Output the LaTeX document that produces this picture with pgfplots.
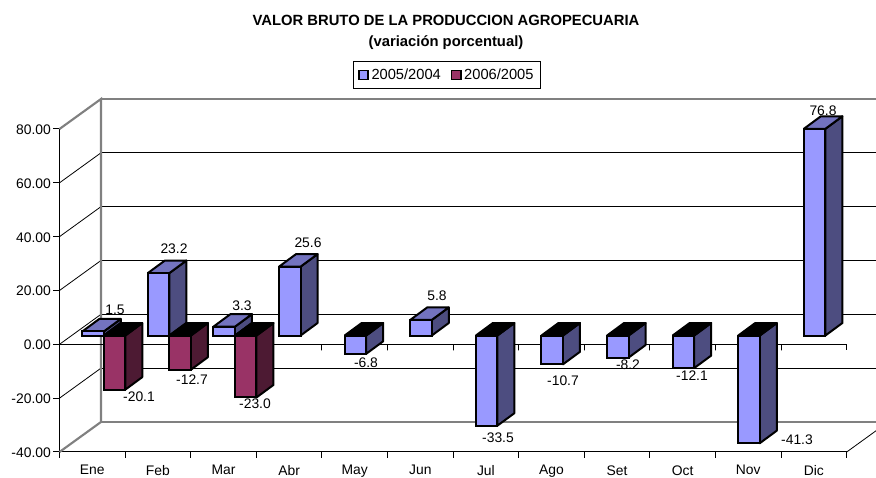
\documentclass[border=0pt]{standalone}
\usepackage{pgfplots}
\usepackage{pgfplotstable}
\pgfplotsset{compat=1.18}
\usepackage{fontspec}
\setmainfont{Liberation Sans}
\definecolor{aF}{HTML}{9999FF}\definecolor{aS}{HTML}{4D4D80}\definecolor{aT}{HTML}{7373BF}
\definecolor{bF}{HTML}{993366}\definecolor{bS}{HTML}{4D1A33}
\definecolor{wall}{HTML}{808080}
\pgfplotstableread{
x v
0.511 1.5
1.511 23.2
2.511 3.3
3.511 25.6
4.511 -6.8
5.511 5.8
6.511 -33.5
7.511 -10.7
8.511 -8.2
9.511 -12.1
10.511 -41.3
11.511 76.8
}\tabA
\pgfplotstableread{
x v
0.839 -20.1
1.839 -12.7
2.839 -23.0
}\tabB
\pgfplotstableread{
px py lbl
115 310 1.5
174 249 23.2
242 306 3.3
308 243 25.6
366 363 -6.8
437 296 5.8
498 438 -33.5
563 381 -10.7
628 365 -8.2
692 376 -12.1
797 440 -41.3
823 111 76.8
139 397 -20.1
192 380 -12.7
255 404 -23.0
}\tabL
\newcommand\faces[3]{%
  \pgfplotstablegetrowsof{#1}\pgfmathtruncatemacro\lastrow{\pgfplotsretval-1}%
  \pgfplotsforeachungrouped \i in {0,...,\lastrow}{%
    \pgfplotstablegetelem{\i}{x}\of{#1}\let\xc\pgfplotsretval
    \pgfplotstablegetelem{\i}{v}\of{#1}\let\vv\pgfplotsretval
    \pgfmathsetmacro\vc{max(\vv,-40)}%
    \pgfmathsetmacro\xl{\xc-0.164}\pgfmathsetmacro\xr{\xc+0.164}%
    \pgfmathsetmacro\xbl{\xl+0.259}\pgfmathsetmacro\xbr{\xr+0.259}%
    \pgfmathsetmacro\tp{max(\vc,0)}\pgfmathsetmacro\tb{\tp+4.65}%
    \pgfmathsetmacro\vb{\vc+4.65}%
    \edef\tmp{\noexpand\addplot[forget plot,draw=black,line width=1.5pt,line join=round,fill=#2] coordinates {(\xr,0)(\xr,\vc)(\xbr,\vb)(\xbr,4.65)(\xr,0)};
    \noexpand\addplot[forget plot,draw=black,line width=1.5pt,line join=round,fill=\ifdim\vv pt<0pt black\else #3\fi] coordinates {(\xl,\tp)(\xr,\tp)(\xbr,\tb)(\xbl,\tb)(\xl,\tp)};}\tmp
  }%
}
\begin{document}
\begin{tikzpicture}
\path[use as bounding box] (0,0) rectangle (657pt,358.5pt);
\node[font=\fontsize{11.1pt}{13pt}\selectfont\bfseries,align=center,anchor=center] at (334.5pt,334.2pt) {VALOR BRUTO DE LA PRODUCCION AGROPECUARIA\\[2.7pt](variación porcentual)};
\begin{axis}[
  at={(44.625pt,19.5pt)},anchor=south west,
  scale only axis,width=590.4pt,height=242.25pt,
  xmin=0,xmax=12,ymin=-43.27,ymax=76.73,
  clip=false,
  axis x line=bottom,axis y line=left,
  axis line style={-,black,line width=.75pt},
  tick style={black,line width=.75pt},
  tick align=outside,major tick length=4.5pt,
  xtick={0,...,12},x tick label as interval,
  xticklabels={Ene,Feb,Mar,Abr,May,Jun,Jul,Ago,Set,Oct,Nov,Dic},
  ytick={-43.27,-23.27,-3.27,16.73,36.73,56.73,76.73},
  yticklabels={-40.00,-20.00,0.00,20.00,40.00,60.00,80.00},
  ticklabel style={font=\fontsize{10.4pt}{12pt}\selectfont},
  x tick label style={yshift=-2pt},
  y tick label style={xshift=1.5pt,yshift=-0.5pt},
  legend style={at={(0.4925,1.166)},anchor=center,draw=black,line width=.75pt,fill=none,
    legend columns=2,font=\fontsize{11pt}{13pt}\selectfont,inner xsep=3.5pt,inner ysep=3.4pt,
    /tikz/every even column/.append style={column sep=5.5pt}},
  legend cell align=left,
  legend image code/.code={\draw[#1,line width=1.2pt] (0pt,-3.2pt) rectangle (6.8pt,3.6pt);},
]
% back wall gridlines and side diagonals
\addplot[forget plot,black,line width=.7pt] coordinates {(0.6326,-12.12)(12.447,-12.12)};
\addplot[forget plot,black,line width=.7pt] coordinates {(0.6326,7.88)(12.447,7.88)};
\addplot[forget plot,black,line width=.7pt] coordinates {(0.6326,27.88)(12.447,27.88)};
\addplot[forget plot,black,line width=.7pt] coordinates {(0.6326,47.88)(12.447,47.88)};
\addplot[forget plot,black,line width=.7pt] coordinates {(0.6326,67.88)(12.447,67.88)};
\addplot[forget plot,black,line width=.6pt] coordinates {(0,-23.27)(0.6326,-12.12)};
\addplot[forget plot,black,line width=.6pt] coordinates {(0,-3.27)(0.6326,7.88)};
\addplot[forget plot,black,line width=.6pt] coordinates {(0,16.73)(0.6326,27.88)};
\addplot[forget plot,black,line width=.6pt] coordinates {(0,36.73)(0.6326,47.88)};
\addplot[forget plot,black,line width=.6pt] coordinates {(0,56.73)(0.6326,67.88)};
\addplot[forget plot,black,line width=.6pt] coordinates {(12,-43.27)(12.447,-35.39)};
\addplot[forget plot,wall,line width=1.6pt,line join=miter] coordinates {(0,76.73)(0.6326,87.88)(0.6326,-32.12)(0,-43.27)};
\addplot[forget plot,wall,line width=1.6pt] coordinates {(0.6326,87.88)(12.447,87.88)};
\addplot[forget plot,wall,line width=1.6pt] coordinates {(0.6326,-32.12)(12.447,-32.12)};
% zero line with its ticks
\addplot[forget plot,black,line width=.75pt] coordinates {(0,-3.27)(1,-3.27)(1,-5.5)(1,-3.27)(2,-3.27)(2,-5.5)(2,-3.27)(3,-3.27)(3,-5.5)(3,-3.27)(4,-3.27)(4,-5.5)(4,-3.27)(5,-3.27)(5,-5.5)(5,-3.27)(6,-3.27)(6,-5.5)(6,-3.27)(7,-3.27)(7,-5.5)(7,-3.27)(8,-3.27)(8,-5.5)(8,-3.27)(9,-3.27)(9,-5.5)(9,-3.27)(10,-3.27)(10,-5.5)(10,-3.27)(11,-3.27)(11,-5.5)(11,-3.27)(12,-3.27)(12,-5.5)};
% series 2005/2004
\faces{\tabA}{aS}{aT}
\addplot[ybar,bar width=0.328,bar shift=0pt,draw=black,line width=1.5pt,fill=aF,y filter/.expression={y<-40?-40:y}] table[x=x,y=v]{\tabA};
\addlegendentry{2005/2004}
% series 2006/2005
\faces{\tabB}{bS}{bF}
\addplot[ybar,bar width=0.328,bar shift=0pt,draw=black,line width=1.5pt,fill=bF] table[x=x,y=v]{\tabB};
\addlegendentry{2006/2005}
% value labels
\addplot[forget plot,draw=none,mark=none,point meta=explicit symbolic,
  nodes near coords,nodes near coords style={anchor=center,inner sep=0pt,font=\fontsize{10.4pt}{12pt}\selectfont}]
  table[x expr={(\thisrow{px}-59.5)/65.6},y expr={(335.5-\thisrow{py})/2.69},meta=lbl]{\tabL};
\end{axis}
\end{tikzpicture}
\end{document}
